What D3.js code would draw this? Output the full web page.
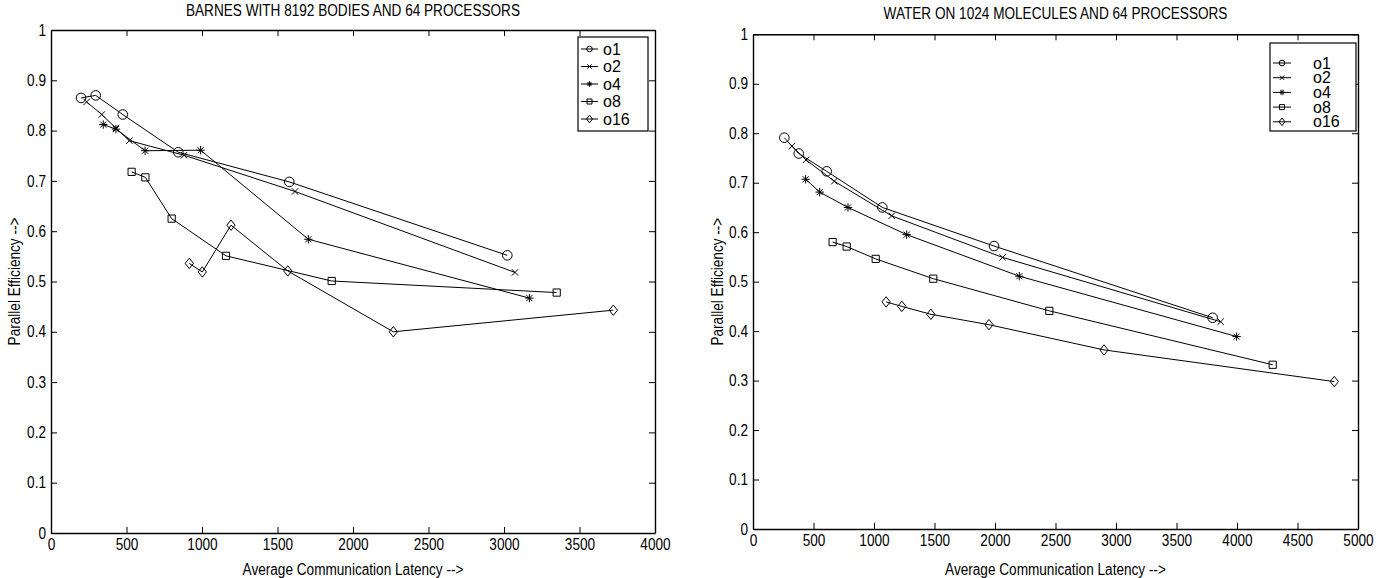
<!DOCTYPE html>
<html>
<head>
<meta charset="utf-8">
<script src="https://cdn.jsdelivr.net/npm/d3@7"></script>
<style>
  body { margin: 0; background: #fff; }
  svg text { font-family: "Liberation Sans", Arial, sans-serif; fill: #000; }
</style>
</head>
<body>
<svg id="chart" width="1395" height="578"></svg>
<script>
// series names, shared by both panels
const seriesNames = ["o1", "o2", "o4", "o8", "o16"];

// BARNES: [latency, efficiency]
const barnesO1 = [[199, 0.865], [296, 0.870], [475, 0.832], [843, 0.757], [1578, 0.698], [3022, 0.552]];
const barnesO2 = [[236, 0.857], [336, 0.832], [430, 0.805], [519, 0.780], [881, 0.751], [1616, 0.679], [3073, 0.518]];
const barnesO4 = [[346, 0.812], [430, 0.803], [623, 0.760], [991, 0.761], [1704, 0.584], [3168, 0.467]];
const barnesO8 = [[534, 0.718], [625, 0.707], [799, 0.625], [1159, 0.551], [1859, 0.501], [3349, 0.478]];
const barnesO16 = [[916, 0.536], [1002, 0.519], [1192, 0.612], [1568, 0.521], [2267, 0.400], [3724, 0.443]];

// WATER: [latency, efficiency]
const waterO1 = [[259, 0.791], [378, 0.759], [609, 0.723], [1069, 0.650], [1992, 0.572], [3799, 0.427]];
const waterO2 = [[322, 0.774], [438, 0.746], [672, 0.703], [1146, 0.633], [2063, 0.549], [3865, 0.419]];
const waterO4 = [[435, 0.707], [551, 0.681], [785, 0.650], [1270, 0.595], [2201, 0.511], [3997, 0.389]];
const waterO8 = [[658, 0.580], [774, 0.571], [1014, 0.546], [1490, 0.506], [2449, 0.441], [4295, 0.332]];
const waterO16 = [[1100, 0.459], [1230, 0.450], [1470, 0.434], [1950, 0.413], [2901, 0.362], [4804, 0.298]];

const yTicks = [0, 0.1, 0.2, 0.3, 0.4, 0.5, 0.6, 0.7, 0.8, 0.9, 1];
const barnesXTicks = [0, 500, 1000, 1500, 2000, 2500, 3000, 3500, 4000];
const waterXTicks = [0, 500, 1000, 1500, 2000, 2500, 3000, 3500, 4000, 4500, 5000];

const barnesTitle = "BARNES WITH 8192 BODIES AND 64 PROCESSORS";
const waterTitle = "WATER ON 1024 MOLECULES AND 64 PROCESSORS";
const xLabel = "Average Communication Latency -->";
const yLabel = "Parallel Efficiency -->";

// matlab style marker shapes as d3 symbol types (size = half width in px)
const mk = {
  circle: { draw(c, s) { c.moveTo(s, 0); c.arc(0, 0, s, 0, 2 * Math.PI); } },
  xmark: { draw(c, s) { c.moveTo(-s, -s); c.lineTo(s, s); c.moveTo(-s, s); c.lineTo(s, -s); } },
  star: { draw(c, s) {
    const d = s * 0.72;
    c.moveTo(-s, 0); c.lineTo(s, 0); c.moveTo(0, -s); c.lineTo(0, s);
    c.moveTo(-d, -d); c.lineTo(d, d); c.moveTo(-d, d); c.lineTo(d, -d);
  } },
  square: { draw(c, s) { c.rect(-s, -s, 2 * s, 2 * s); } },
  diamond: { draw(c, s) { const w = s * 0.8; c.moveTo(0, -s); c.lineTo(w, 0); c.lineTo(0, s); c.lineTo(-w, 0); c.closePath(); } }
};
const markerTypes = [mk.circle, mk.xmark, mk.star, mk.square, mk.diamond];
const markerSizes = [4.8, 3.2, 4.2, 3.6, 5.2];
const legendSizes = [2.8, 2.2, 2.8, 2.5, 3.8];

const svg = d3.select("#chart");

// squeeze text horizontally, the original used a narrow helvetica
function narrow(sel, f) {
  sel.each(function () {
    const w = this.getComputedTextLength();
    d3.select(this).attr("textLength", w * f).attr("lengthAdjust", "spacingAndGlyphs");
  });
}

function drawPanel(cfg) {
  const x = d3.scaleLinear().domain(cfg.xDomain).range([cfg.left, cfg.right]);
  const y = d3.scaleLinear().domain([0, 1]).range([cfg.bottom, cfg.top]);
  const g = svg.append("g");

  // box with inward ticks on all four sides
  g.append("g").attr("transform", `translate(0,${cfg.bottom})`)
    .call(d3.axisBottom(x).tickValues(cfg.xTicks).tickSize(-6).tickSizeOuter(0).tickPadding(6).tickFormat(d => d))
    .call(a => a.selectAll("text").attr("class", "nt").attr("font-size", 16));
  g.append("g").attr("transform", `translate(0,${cfg.top})`)
    .call(d3.axisTop(x).tickValues(cfg.xTicks).tickSize(-6).tickSizeOuter(0).tickFormat(""));
  g.append("g").attr("transform", `translate(${cfg.left},0)`)
    .call(d3.axisLeft(y).tickValues(yTicks).tickSize(-6).tickSizeOuter(0).tickPadding(5).tickFormat(d => d))
    .call(a => a.selectAll("text").attr("class", "nt").attr("font-size", 16));
  g.append("g").attr("transform", `translate(${cfg.right},0)`)
    .call(d3.axisRight(y).tickValues(yTicks).tickSize(-6).tickSizeOuter(0).tickFormat(""));
  g.selectAll(".domain").attr("stroke", "#000").attr("stroke-width", 1.4);
  g.selectAll(".tick line").attr("stroke", "#000").attr("stroke-width", 1);

  const line = d3.line().x(d => x(d[0])).y(d => y(d[1]));
  cfg.series.forEach((data, i) => {
    g.append("path").datum(data)
      .attr("d", line).attr("fill", "none").attr("stroke", "#000").attr("stroke-width", 1);
    g.selectAll(null).data(data).join("path")
      .attr("transform", d => `translate(${x(d[0])},${y(d[1])})`)
      .attr("d", d3.symbol(markerTypes[i], markerSizes[i]))
      .attr("fill", "none").attr("stroke", "#000").attr("stroke-width", 1);
  });

  // titles and labels
  const cx = (cfg.left + cfg.right) / 2;
  g.append("text").attr("class", "nt").attr("x", cx).attr("y", cfg.titleY).attr("text-anchor", "middle")
    .attr("font-size", 16).text(cfg.title);
  g.append("text").attr("class", "nt").attr("x", cx).attr("y", 575).attr("text-anchor", "middle")
    .attr("font-size", 16).text(xLabel);
  g.append("text").attr("class", "nt")
    .attr("transform", `translate(${cfg.yLabelX},${(cfg.top + cfg.bottom) / 2}) rotate(-90)`)
    .attr("text-anchor", "middle").attr("font-size", 16).text(yLabel);

  // legend
  const lg = cfg.legend;
  g.append("rect").attr("x", lg.x).attr("y", lg.y).attr("width", lg.w).attr("height", lg.h)
    .attr("fill", "#fff").attr("stroke", "#000").attr("stroke-width", 1.2);
  seriesNames.forEach((name, i) => {
    const ry = lg.y + lg.first + i * lg.step;
    g.append("line").attr("x1", lg.x + 3).attr("x2", lg.x + 3 + lg.lineW)
      .attr("y1", ry).attr("y2", ry).attr("stroke", "#000");
    g.append("path").attr("transform", `translate(${lg.x + 3 + lg.lineW / 2},${ry})`)
      .attr("d", d3.symbol(markerTypes[i], legendSizes[i]))
      .attr("fill", "none").attr("stroke", "#000");
    g.append("text").attr("x", lg.textX).attr("y", ry + 5.5).attr("font-size", 16).text(name);
  });
}

drawPanel({
  left: 51, right: 655, top: 30, bottom: 533,
  xDomain: [0, 4000], xTicks: barnesXTicks,
  series: [barnesO1, barnesO2, barnesO4, barnesO8, barnesO16],
  title: barnesTitle, titleY: 16, yLabelX: 20,
  legend: { x: 578, y: 37, w: 70, h: 94, first: 12, step: 17.5, lineW: 17, textX: 603 }
});

drawPanel({
  left: 753, right: 1358, top: 34.3, bottom: 529,
  xDomain: [0, 5000], xTicks: waterXTicks,
  series: [waterO1, waterO2, waterO4, waterO8, waterO16],
  title: waterTitle, titleY: 19, yLabelX: 723,
  legend: { x: 1270, y: 43, w: 86, h: 88, first: 20, step: 14.7, lineW: 18, textX: 1313 }
});

narrow(svg.selectAll(".nt"), 0.85);
</script>
</body>
</html>
